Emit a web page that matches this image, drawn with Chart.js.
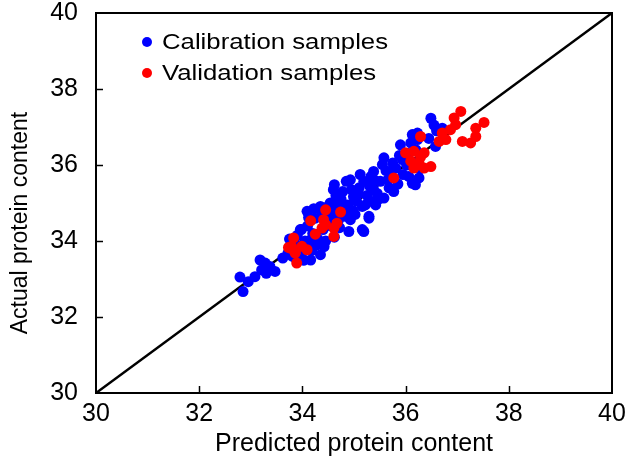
<!DOCTYPE html>
<html><head><meta charset="utf-8">
<script src="https://cdn.jsdelivr.net/npm/chart.js@4/dist/chart.umd.min.js"></script>
<style>html,body{margin:0;padding:0;background:#fff;}canvas{display:block;}</style>
</head><body>
<canvas id="c" width="627" height="461"></canvas>
<script>
// ---- data ----
const xTickValues = [30, 32, 34, 36, 38, 40];
const yTickValues = [30, 32, 34, 36, 38, 40];
const seriesNames = ['Calibration samples', 'Validation samples'];
const xAxisTitle = 'Predicted protein content';
const yAxisTitle = 'Actual protein content';
const calibrationPredicted = [
 32.79,32.85,32.95,33.08,33.18,33.28,33.21,33.37,33.47,33.30,
 33.62,33.72,33.80,33.85,33.90,33.95,33.98,33.92,34.02,34.05,33.75,33.88,
 34.03,34.16,34.35,34.28,33.96,34.09,34.35,34.10,34.20,34.25,34.40,34.45,34.30,34.15,34.38,34.22,34.48,34.12,34.42,34.18,
 34.54,34.90,34.60,34.67,34.55,34.62,34.70,34.75,34.80,34.85,34.93,34.93,34.99,34.58,34.65,34.72,34.78,34.88,34.95,34.52,34.83,34.68,34.98,34.62,
 35.19,35.29,35.16,35.29,35.16,35.35,35.19,35.38,35.05,35.10,35.25,35.45,35.40,35.38,35.02,35.12,35.30,35.48,35.22,35.08,35.42,35.33,
 35.51,35.58,35.77,35.58,35.55,35.81,35.65,35.70,35.90,35.94,35.85,35.62,35.75,35.95,35.68,35.88,
 36.06,36.26,36.13,36.13,36.10,36.23,36.23,36.05,36.18,36.28,36.20,36.02,36.19,
 36.49,36.71,36.58,36.60,36.45,36.55
];
const calibrationActual = [
 33.05,32.67,32.93,33.06,33.50,33.42,33.24,33.33,33.20,33.15,
 33.55,33.68,33.60,33.95,34.15,33.62,34.30,33.78,33.50,34.00,34.05,33.52,
 33.50,33.50,33.64,33.90,34.30,34.78,34.91,34.40,34.20,34.60,34.30,34.00,34.05,34.00,34.75,34.85,34.55,34.62,33.85,33.75,
 35.00,34.25,35.35,34.82,34.40,34.10,34.55,35.10,34.85,35.57,35.61,34.56,35.17,34.70,35.20,34.35,35.30,34.95,35.35,34.95,34.65,34.98,34.80,35.48,
 34.25,34.60,34.30,34.65,34.91,35.04,35.57,35.35,35.05,35.40,35.20,35.25,35.60,35.83,34.70,35.75,35.45,35.10,34.95,35.25,34.95,35.70,
 35.57,35.13,35.30,36.19,36.01,35.92,35.60,35.80,36.53,36.14,35.50,35.85,36.05,35.75,35.40,36.25,
 35.70,35.66,35.52,36.80,36.58,36.84,36.67,36.30,36.05,35.90,36.40,36.00,35.48,
 37.23,36.97,36.49,36.90,36.70,37.05
];
const validationPredicted = [
 33.79,33.86,33.77,33.89,33.83,33.73,33.99,34.09,33.86,
 34.45,34.74,34.16,34.41,34.45,34.67,34.61,34.25,34.61,34.38,
 35.77,
 36.00,36.16,36.36,36.10,36.26,36.49,36.36,36.16,36.29,
 36.29,36.65,36.71,36.78,36.94,36.97,37.07,37.10,37.26,37.36,37.36,37.52,36.87
];
const validationActual = [
 33.86,33.72,33.81,33.42,34.08,33.83,33.86,33.77,33.68,
 34.82,34.76,34.53,34.56,34.43,34.47,34.34,34.18,34.12,34.34,
 35.66,
 36.32,36.36,36.32,36.10,36.05,35.96,35.92,35.92,36.21,
 36.75,36.62,36.84,36.67,37.24,37.06,37.41,36.62,36.58,36.75,36.97,37.12,36.93
];
const lineX = [30, 40];
const lineY = [30, 40];

const toPts = (xs, ys) => xs.map((x, i) => ({x: x, y: ys[i]}));
const FONT = '"Liberation Sans", Arial, sans-serif';

const framePlugin = {
  id: 'frame',
  afterDatasetsDraw(chart) {
    const {ctx, chartArea: a, scales: {x, y}} = chart;
    ctx.save();
    ctx.strokeStyle = '#000';
    ctx.lineWidth = 2;
    ctx.strokeRect(a.left, a.top, a.right - a.left, a.bottom - a.top);
    ctx.lineWidth = 1.5;
    xTickValues.forEach(v => {
      if (v === x.min || v === x.max) return;
      const px = Math.round(x.getPixelForValue(v)) + 0.5;
      ctx.beginPath(); ctx.moveTo(px, a.bottom); ctx.lineTo(px, a.bottom - 7); ctx.stroke();
    });
    yTickValues.forEach(v => {
      if (v === y.min || v === y.max) return;
      const py = Math.round(y.getPixelForValue(v)) + 0.5;
      ctx.beginPath(); ctx.moveTo(a.left, py); ctx.lineTo(a.left + 7, py); ctx.stroke();
    });
    // legend
    const colors = ['#0000ff', '#ff0000'];
    ctx.font = '22px ' + FONT;
    ctx.textBaseline = 'middle';
    seriesNames.forEach((n, i) => {
      const cy = a.top + 29 + i * 31;
      ctx.beginPath(); ctx.fillStyle = colors[i];
      ctx.arc(a.left + 51, cy, 5, 0, Math.PI * 2); ctx.fill();
      ctx.fillStyle = '#000';
      ctx.save();
      ctx.translate(a.left + 66, cy);
      ctx.scale(1.17, 1);
      ctx.fillText(n, 0, 1);
      ctx.restore();
    });
    // y axis title
    ctx.save();
    ctx.fillStyle = '#000';
    ctx.font = '23px ' + FONT;
    ctx.textAlign = 'center';
    ctx.textBaseline = 'middle';
    ctx.translate(21, (a.top + a.bottom) / 2 + 20);
    ctx.rotate(-Math.PI / 2);
    ctx.fillText(yAxisTitle, 0, 0);
    ctx.restore();
    ctx.restore();
  }
};

function noPad(s) { s.paddingTop = 0; s.paddingBottom = 0; s.paddingLeft = 0; s.paddingRight = 0; }

new Chart(document.getElementById('c'), {
  type: 'scatter',
  data: {
    datasets: [
      {label: seriesNames[1], data: toPts(validationPredicted, validationActual), backgroundColor: '#ff0000', borderWidth: 0, pointRadius: 5.5, order: 1},
      {label: seriesNames[0], data: toPts(calibrationPredicted, calibrationActual), backgroundColor: '#0000ff', borderWidth: 0, pointRadius: 5.5, order: 2},
      {label: '1:1', data: toPts(lineX, lineY), showLine: true, borderColor: '#000', borderWidth: 2.5, pointRadius: 0, order: 3}
    ]
  },
  options: {
    responsive: false,
    animation: false,
    layout: {padding: {top: 13, right: 15, left: 0, bottom: 0}},
    plugins: {legend: {display: false}, tooltip: {enabled: false}},
    scales: {
      x: {
        type: 'linear', min: 30, max: 40,
        afterBuildTicks(s) { s.ticks = xTickValues.map(v => ({value: v})); },
        afterFit(s) { s.height = 68; noPad(s); },
        ticks: {font: {family: FONT, size: 25}, color: '#000', padding: 6, maxRotation: 0},
        grid: {display: false, drawTicks: false},
        border: {display: false},
        title: {display: true, text: xAxisTitle, font: {family: FONT, size: 25}, color: '#000', padding: {top: 0, bottom: 2}}
      },
      y: {
        type: 'linear', min: 30, max: 40,
        afterBuildTicks(s) { s.ticks = yTickValues.map(v => ({value: v})); },
        afterFit(s) { s.width = 96; noPad(s); },
        ticks: {font: {family: FONT, size: 25}, color: '#000', padding: 18},
        grid: {display: false, drawTicks: false},
        border: {display: false},
        title: {display: false}
      }
    }
  },
  plugins: [framePlugin]
});
</script>
</body></html>
